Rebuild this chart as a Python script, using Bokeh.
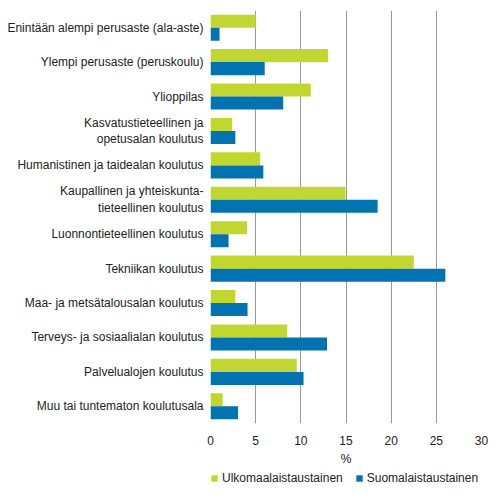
from bokeh.models import ColumnDataSource, FactorRange, Range1d, Legend, LegendItem, SingleIntervalTicker
from bokeh.plotting import figure
from bokeh.layouts import column
from bokeh.transform import dodge
from bokeh.embed import file_html
from bokeh.resources import INLINE

categories = [
    "Enintään alempi perusaste (ala-aste)",
    "Ylempi perusaste (peruskoulu)",
    "Ylioppilas",
    "Kasvatustieteellinen ja\nopetusalan koulutus",
    "Humanistinen ja taidealan koulutus",
    "Kaupallinen ja yhteiskunta-\ntieteellinen koulutus",
    "Luonnontieteellinen koulutus",
    "Tekniikan koulutus",
    "Maa- ja metsätalousalan koulutus",
    "Terveys- ja sosiaalialan koulutus",
    "Palvelualojen koulutus",
    "Muu tai tuntematon koulutusala",
]
ulkomaalais = [5.0, 13.0, 11.1, 2.4, 5.5, 14.95, 4.05, 22.5, 2.75, 8.5, 9.55, 1.35]
suomalais = [1.0, 6.0, 8.05, 2.75, 5.85, 18.5, 2.0, 26.0, 4.1, 12.9, 10.3, 3.05]
series = ["Ulkomaalaistaustainen", "Suomalaistaustainen"]

GREEN = "#c1d72f"
BLUE = "#0073b0"
FONT = "Liberation Sans"
TXT = "#222222"

source = ColumnDataSource(data=dict(cat=categories, ulk=ulkomaalais, suo=suomalais))

p = figure(y_range=FactorRange(*reversed(categories)), x_range=Range1d(0, 30),
           frame_width=271, frame_height=413,
           min_border_left=210, min_border_right=13, min_border_top=10, min_border_bottom=43,
           output_backend="svg", toolbar_location=None)

p.hbar(y=dodge("cat", 0.19, range=p.y_range), right="ulk", height=0.38,
       source=source, color=GREEN, line_color=None)
p.hbar(y=dodge("cat", -0.19, range=p.y_range), right="suo", height=0.38,
       source=source, color=BLUE, line_color=None)

p.outline_line_color = None
p.ygrid.grid_line_color = None
p.xgrid.grid_line_color = "#9a9a9a"
p.xgrid.grid_line_width = 1

p.xaxis.ticker = SingleIntervalTicker(interval=5)
p.xaxis.axis_line_color = None
p.xaxis.major_tick_line_color = None
p.xaxis.minor_tick_line_color = None
p.xaxis.major_tick_out = 0
p.xaxis.major_label_standoff = 8
p.xaxis.axis_label = "%"
p.xaxis.axis_label_standoff = 4
p.xaxis.axis_label_text_font_style = "normal"

p.yaxis.axis_line_color = None
p.yaxis.major_tick_line_color = None
p.yaxis.major_tick_out = 0
p.yaxis.major_label_standoff = 7

for ax in [p.xaxis[0], p.yaxis[0]]:
    ax.major_label_text_font = FONT
    ax.major_label_text_font_size = "12px"
    ax.major_label_text_color = TXT
    ax.axis_label_text_font = FONT
    ax.axis_label_text_font_size = "12px"
    ax.axis_label_text_color = TXT

# legend row as a separate strip below the chart (frames are aligned by the column)
leg = figure(width=494, height=17, x_range=Range1d(0, 1), y_range=Range1d(0, 1),
             x_axis_type=None, y_axis_type=None, min_border=0,
             output_backend="svg", toolbar_location=None)
leg.outline_line_color = None
leg.grid.grid_line_color = None
# one bar each, kept outside the visible range, only to give the legend its swatches
g1 = leg.hbar(y=[-5], right=[-5], left=[-6], height=1, color=GREEN, line_color=None)
g2 = leg.hbar(y=[-5], right=[-5], left=[-6], height=1, color=BLUE, line_color=None)
legend = Legend(items=[LegendItem(label=series[0], renderers=[g1]),
                       LegendItem(label=series[1], renderers=[g2])],
                orientation="horizontal", location=(0, 0),
                label_text_font=FONT, label_text_font_size="12px", label_text_color=TXT,
                glyph_width=8, glyph_height=8, label_height=14, label_standoff=4, spacing=12,
                padding=0, margin=0, border_line_color=None, background_fill_alpha=0)
leg.add_layout(legend)

layout = column(p, leg, spacing=0)
open("out.html", "w").write(file_html(layout, INLINE))
